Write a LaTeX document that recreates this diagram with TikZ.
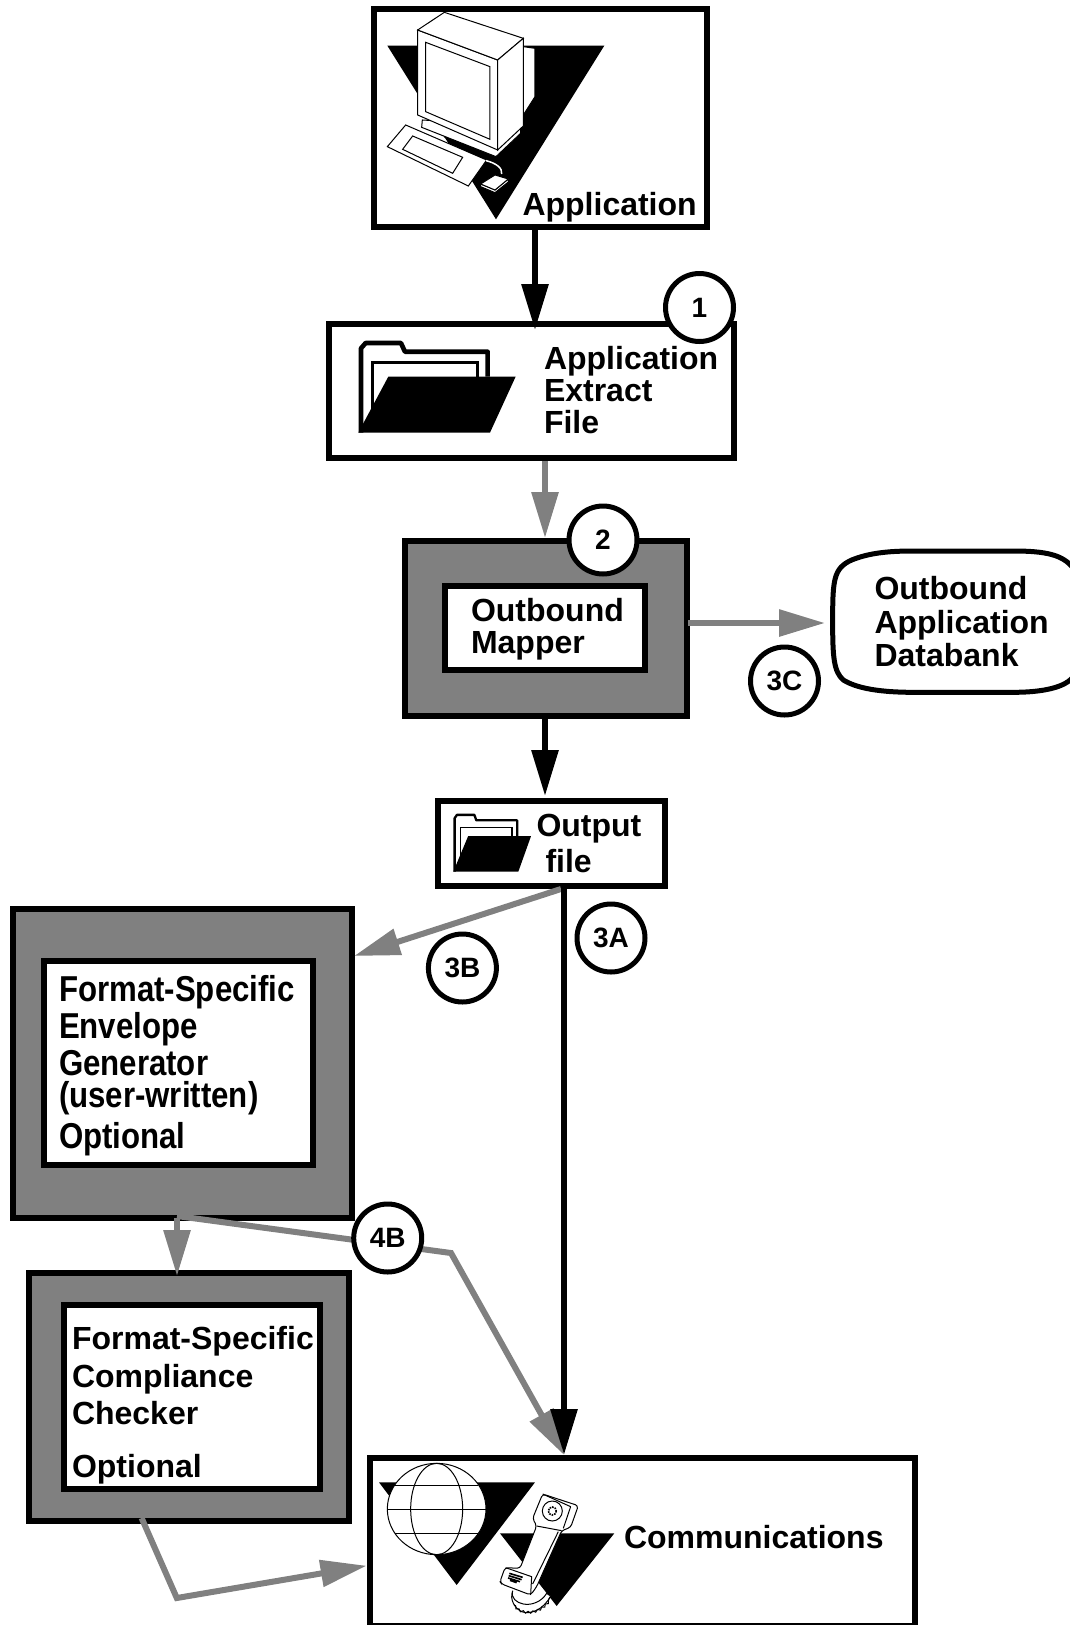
\documentclass[tikz,border=0pt]{standalone}
\usepackage{fontspec}
\setmainfont{Liberation Sans}
\usetikzlibrary{arrows.meta,decorations.pathmorphing}
\definecolor{flowgray}{HTML}{808080}
\newcommand\labelfont{\bfseries\fontsize{32}{32}\selectfont\lineskiplimit -100pt\relax}
\newcommand\envfont{\bfseries\fontsize{36}{30}\selectfont\lineskiplimit -100pt\relax}
\newcommand\stepnum[1]{\raisebox{-1.2pt}{#1}}
\tikzset{
  box/.style={draw=black,line width=6pt,fill=white,inner sep=0pt,outer sep=0pt},
  graybox/.style={box,fill=flowgray},
  lbl/.style={inner sep=0pt,outer sep=0pt,anchor=base west,align=left,font=\labelfont},
  num/.style={circle,draw=black,line width=5pt,fill=white,minimum size=68pt,inner sep=0pt,
    font=\bfseries\fontsize{28}{28}\selectfont},
  flow/.style={line width=6pt,-{Triangle[length=46pt,width=26pt]}},
  blackflow/.style={flow,draw=black},
  grayflow/.style={flow,draw=flowgray},
  thin line/.style={draw=black,line width=1pt,fill=white},
}
\newcommand\folderglyph[3]{%
  \begin{scope}[shift={#1},xscale=#2,yscale=#3]
    \draw[line width=#2*14pt,line join=round] (8,273) -- (8,20) -- (22,4) -- (128,4) -- (140,30) -- (388,30) -- (388,105);
    \draw[line width=#2*9pt] (43,235) -- (43,63) -- (357,63) -- (357,105);
    \fill[black] (90,105) -- (472,105) -- (395,273) -- (0,273) -- (15,245) -- cycle;
  \end{scope}}
\begin{document}
\begin{tikzpicture}[x=1pt,y=-1pt]
\useasboundingbox (0,0) rectangle (1070,1625);
% boxes
\node[box,minimum width=333pt,minimum height=218pt] (app) at (540.5,118) {};
\node[box,minimum width=405pt,minimum height=134pt] (extract) at (531.5,391) {};
\node[graybox,minimum width=282pt,minimum height=175pt] (mapper) at (546,628.5) {};
\node[box,minimum width=200pt,minimum height=84pt] (mapperin) at (545,628) {};
\node[box,minimum width=227pt,minimum height=85pt] (output) at (551.5,843.5) {};
\node[graybox,minimum width=339pt,minimum height=309pt] (env) at (182.5,1063.5) {};
\node[box,minimum width=269pt,minimum height=204pt] (envin) at (178.5,1063) {};
\node[graybox,minimum width=320pt,minimum height=248pt] (comp) at (189,1397) {};
\node[box,minimum width=256.5pt,minimum height=184pt] (compin) at (191.75,1397) {};
\node[box,minimum width=545pt,minimum height=168pt] (comm) at (642.5,1542) {};
% databank outline
\begin{scope}[shift={(680,530)},x=0.3333pt,y=-0.3333pt]
  \draw[line width=5pt,fill=white] (458,275) .. controls (458,150) and (460,115) .. (515,90)
    .. controls (565,70) and (620,63) .. (700,63) -- (1000,63)
    .. controls (1100,63) and (1150,75) .. (1180,115) -- (1260,115) -- (1260,440) -- (1180,440)
    .. controls (1150,480) and (1060,487) .. (1000,487) -- (700,487)
    .. controls (600,487) and (530,475) .. (490,450)
    .. controls (461,425) and (458,380) .. (458,275) -- cycle;
\end{scope}
\coordinate (bankw) at (832,623);
% application icon
\begin{scope}[shift={(360,0)},x=0.3333pt,y=-0.3333pt]
  \fill[black] (82,137) -- (733,137) -- (408,658) -- cycle;
  \draw[thin line] (137,375) -- (380,480) -- (325,558) -- (82,440) -- cycle;
  \draw[thin line] (158,408) -- (308,472) -- (278,520) -- (128,448) -- cycle;
  \draw[thin line] (490,140) -- (525,145) -- (525,290) -- (490,345) -- cycle;
  \draw[thin line] (187,360) -- (185,382) -- (408,470) -- (482,400) -- (482,378) -- cycle;
  \fill[black] (250,410) -- (345,445) -- (380,480) -- (300,445) -- cycle;
  \draw[thin line] (173,90) -- (413,180) -- (413,450) -- (173,345) -- cycle;
  \draw[thin line] (173,90) -- (253,37) -- (490,115) -- (413,180) -- cycle;
  \draw[thin line] (413,180) -- (490,115) -- (490,378) -- (413,450) -- cycle;
  \draw[thin line] (197,127) -- (390,200) -- (390,418) -- (197,335) -- cycle;
  \draw[white,line width=1.5pt] (378,482) .. controls (410,490) and (428,505) .. (425,522);
  \draw[thin line] (362,552) -- (362,560) -- (405,578) -- (445,546) -- (445,537) -- (405,570) -- cycle;
  \draw[thin line] (362,552) -- (405,525) -- (445,537) -- (405,570) -- cycle;
\end{scope}
% folders
\folderglyph{(358.3,341.7)}{0.3333}{0.3333}
\folderglyph{(453.3,814)}{0.1646}{0.2112}
% communications icons
\begin{scope}[shift={(360,1440)},x=0.3333pt,y=-0.3333pt]
  \fill[black] (57,127) -- (525,127) -- (290,435) -- cycle;
  \fill[black] (420,280) -- (763,280) -- (590,498) -- cycle;
  \draw[thin line] (230,207) ellipse (148 and 137);
  \draw[draw=black,line width=1pt] (230,207) ellipse (78 and 137);
  \draw[black,line width=1pt] (105,135) -- (355,135) (82,207) -- (378,207) (105,280) -- (355,280);
  % handset cord
  \draw[black,line width=1pt,fill=white] (458,452) .. controls (452,475) and (470,488) .. (490,492)
    .. controls (515,497) and (545,485) .. (560,460) -- (572,468)
    .. controls (550,510) and (510,525) .. (485,515) .. controls (465,505) and (448,480) .. (458,452) -- cycle;
  \draw[black,line width=1pt,decorate,decoration={snake,amplitude=1pt,segment length=5pt}]
    (462,495) .. controls (480,522) and (540,525) .. (572,470);
  % handset
  \draw[thin line,line join=round,rounded corners=3pt] (548,162) -- (655,197) -- (632,262) -- (605,272) -- (530,440) -- (512,465)
    -- (425,432) -- (420,425) -- (435,383) -- (480,385) -- (530,258) -- (518,235) -- cycle;
  \draw[black,line width=1pt] (530,258) -- (605,272) (632,200) -- (610,265) (548,162) -- (632,200) (595,275) -- (518,432) (437,383) -- (515,410) -- (512,465);
  \draw[black,line width=1pt] (577,213) circle (30);
  \draw[black,line width=1.6pt,densely dotted] (577,213) circle (12);
  \draw[black,line width=1.6pt] (448,400) -- (488,412) (446,407) -- (485,419) (444,414) -- (480,425) (450,421) -- (470,428);
\end{scope}
% connectors
\draw[blackflow] ([xshift=-5.5pt]app.south) -- ([xshift=3.5pt,yshift=-6pt]extract.north);
\draw[grayflow] ([xshift=13.5pt,yshift=-3pt]extract.south) -- ([xshift=-1pt,yshift=3pt]mapper.north);
\draw[blackflow] ([xshift=-1pt,yshift=-3pt]mapper.south) -- ([xshift=-6.5pt,yshift=5pt]output.north);
\draw[grayflow] ([xshift=1pt,yshift=5.5pt]mapper.east) -- ([xshift=-7pt]bankw);
\draw[grayflow] ([xshift=9.5pt,yshift=-3pt]output.south) -- ([xshift=2pt,yshift=107.5pt]env.east);
\draw[grayflow] ([xshift=-5.5pt]env.south) -- ([xshift=-12pt,yshift=-3pt]comp.north);
\coordinate (bendb) at (451,1253);
\draw[grayflow] ([xshift=-5.5pt,yshift=2pt]env.south) -- (bendb) -- ([xshift=-78.5pt,yshift=3pt]comm.north);
\coordinate (bendc) at (176.8,1598);
\draw[grayflow] ([xshift=-47.4pt,yshift=3pt]comp.south) -- (bendc) -- ([xshift=-3.4pt,yshift=-23.7pt]comm.west);
\draw[blackflow] ([xshift=12.5pt]output.south) -- ([xshift=-78.5pt,yshift=3pt]comm.north);
% labels
\node[lbl] (tapp) at (522.5,215) {Application};
\node[lbl] (textract) at (544,433) {Application\\Extract\\File};
\node[lbl] (tmapper) at (471,653) {Outbound\\Mapper};
\node[lbl] (tbank) at (874.5,666) {Outbound\\[2pt]Application\\[1pt]Databank};
\node[lbl] (toutput) at (536.5,872) {Output\\[4pt]\hspace{9pt}file};
\node[lbl,xscale=.867,font=\envfont] (tenv) at (59,1148)
  {Format-Specific\\[6.3pt]Envelope\\[7pt]Generator\\[2.7pt](user-written)\\[10.3pt]Optional};
\node[lbl] (tcomp) at (72,1477) {Format-Specific\\[6pt]Compliance\\[5pt]Checker\\[21pt]Optional};
\node[lbl] (tcomm) at (624,1548) {Communications};
% step circles
\node[num] (n1) at (699.5,307.5) {\stepnum{1}};
\node[num] (n2) at (603,540) {\stepnum{2}};
\node[num] (n3c) at (784.5,681) {\stepnum{3C}};
\node[num] (n3a) at (611,938) {\stepnum{3A}};
\node[num] (n3b) at (462.4,968) {\stepnum{3B}};
\node[num] (n4b) at (387.7,1238) {\stepnum{4B}};
\end{tikzpicture}
\end{document}
